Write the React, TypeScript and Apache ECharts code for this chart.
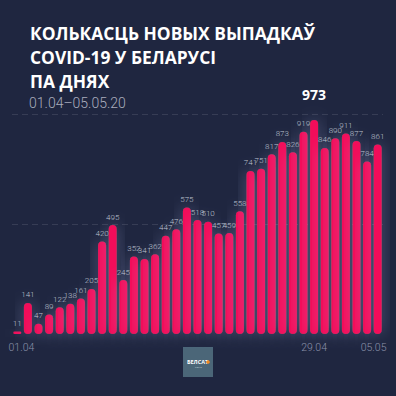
import React, { useEffect, useRef } from "react";
import * as echarts from "echarts";

const days = [
  "01.04", "02.04", "03.04", "04.04", "05.04", "06.04", "07.04", "08.04", "09.04", "10.04",
  "11.04", "12.04", "13.04", "14.04", "15.04", "16.04", "17.04", "18.04", "19.04", "20.04",
  "21.04", "22.04", "23.04", "24.04", "25.04", "26.04", "27.04", "28.04", "29.04", "30.04",
  "01.05", "02.05", "03.05", "04.05", "05.05",
];
const cases = [
  11, 141, 47, 89, 122, 138, 161, 205, 420, 495,
  245, 352, 341, 362, 447, 476, 575, 518, 510, 457,
  459, 558, 741, 751, 817, 873, 826, 919, 973, 846,
  890, 911, 877, 784, 861,
];
const shownTicks = ["01.04", "29.04", "05.05"];
const peakDay = "29.04";
const titleText = "КОЛЬКАСЦЬ НОВЫХ ВЫПАДКАЎ\nCOVID-19 У БЕЛАРУСІ\nПА ДНЯХ";
const subText = "01.04–05.05.20";

export default function App() {
  const ref = useRef<HTMLDivElement>(null);
  useEffect(() => {
    document.body.style.margin = "0";
    const chart = echarts.init(ref.current!, null, { renderer: "svg" });
    const last = days.length - 1;
    const tick = { color: "#8a90a8", fontSize: 10.5, fontWeight: 300, fontFamily: "Roboto" };
    chart.setOption({
      animation: false,
      backgroundColor: "#1f2640",
      title: [
        {
          text: titleText,
          left: 30,
          top: 21,
          padding: 0,
          textStyle: {
            color: "#ffffff",
            fontSize: 17.4,
            fontWeight: "bold",
            lineHeight: 24,
            fontFamily: "Open Sans",
          },
        },
        {
          text: subText,
          left: 29,
          top: 96,
          padding: 0,
          textStyle: {
            color: "#a9adbd",
            fontSize: 14,
            fontWeight: 300,
            fontFamily: "Roboto",
          },
        },
      ],
      grid: { left: 12, right: 13, top: 114, bottom: 62 },
      xAxis: {
        type: "category",
        data: days,
        axisLine: { show: false },
        axisTick: { show: false },
        axisLabel: {
          interval: (_i: number, v: string) => shownTicks.includes(v),
          margin: 8,
          ...tick,
          formatter: (v: string, i: number) =>
            i === 0 ? `{first|${v}}` : i === last ? `{last|${v}}` : v,
          rich: {
            first: { width: 34, align: "right", ...tick },
            last: { width: 34, align: "left", ...tick },
          },
        },
      },
      yAxis: {
        type: "value",
        min: 0,
        max: 1000,
        interval: 500,
        axisLabel: { show: false },
        axisLine: { show: false },
        axisTick: { show: false },
        splitLine: {
          lineStyle: {
            color: ["transparent", "rgba(255,255,255,0.11)", "rgba(255,255,255,0.11)"],
            type: [6, 4],
            width: 1,
          },
        },
      },
      series: [
        {
          type: "bar",
          barWidth: 8,
          data: cases.map((v, i) =>
            days[i] === peakDay
              ? {
                  value: v,
                  label: {
                    fontSize: 14,
                    fontWeight: "bold",
                    color: "#ffffff",
                    distance: 18,
                    fontFamily: "Open Sans",
                  },
                }
              : v
          ),
          itemStyle: {
            color: "#f2095a",
            borderRadius: 4,
            shadowBlur: 16,
            shadowColor: "rgba(190,200,255,0.34)",
          },
          label: {
            show: true,
            position: "top",
            distance: 4,
            color: "#bfc2d0",
            fontSize: 8,
            fontWeight: 300,
            fontFamily: "Roboto",
          },
        },
      ],
      graphic: [
        {
          type: "group",
          left: 183,
          top: 347,
          children: [
            { type: "rect", shape: { x: 0, y: 0, width: 30, height: 30 }, style: { fill: "#4b6678" } },
            {
              type: "text",
              x: 4,
              y: 12,
              style: { text: "БЕЛСАТ", fill: "#ffffff", fontSize: 5.5, fontWeight: "bold", fontFamily: "Open Sans" },
            },
            { type: "circle", shape: { cx: 25, cy: 15, r: 1.8 }, style: { fill: "#f08a24" } },
            {
              type: "text",
              x: 12,
              y: 18.5,
              style: { text: "NEWS", fill: "#c8d2da", fontSize: 2.5, fontFamily: "Open Sans" },
            },
          ],
        },
      ],
    });
    return () => chart.dispose();
  }, []);
  return <div ref={ref} style={{ position: "fixed", left: 0, top: 0, width: 396, height: 396 }} />;
}
